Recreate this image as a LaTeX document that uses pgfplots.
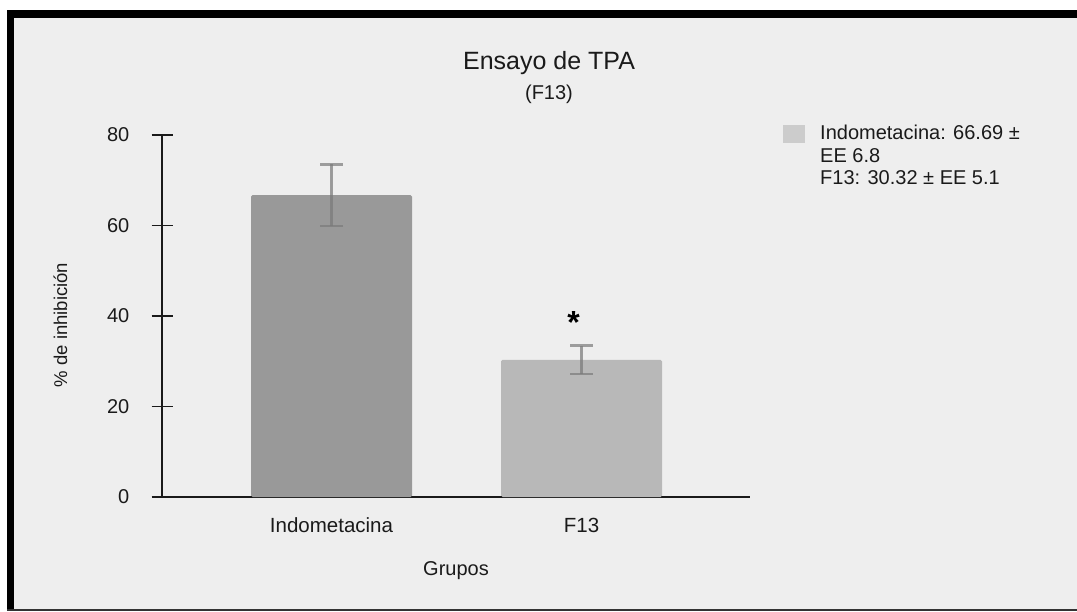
\documentclass[border=0pt]{standalone}
\usepackage{pgfplots}
\pgfplotsset{compat=1.18}
\usepackage{fontspec}
\setmainfont{Liberation Sans}
\definecolor{bgc}{HTML}{EEEEEE}
\definecolor{barA}{HTML}{999999}
\definecolor{barB}{HTML}{B8B8B8}
\definecolor{legc}{HTML}{CCCCCC}
\definecolor{errc}{HTML}{7A7A7A}
\definecolor{txt}{HTML}{1A1A1A}
\begin{document}
\begin{tikzpicture}[x=1pt,y=1pt]
\useasboundingbox (0,0) rectangle (1077,611);
\fill[white] (0,0) rectangle (1077,611);
\fill[bgc] (14,2) rectangle (1077,592.5);
\fill[black] (6.5,592.5) rectangle (1077,600.5);
\fill[black] (6.5,2) rectangle (14,600.5);
\fill[black!80] (6.5,0) rectangle (1077,2);
\begin{axis}[
  scale only axis,
  at={(162pt,114pt)}, anchor=south west,
  width=588pt, height=362pt,
  xmin=-0.678, xmax=1.674,
  ymin=0, ymax=80,
  axis x line=bottom, axis y line=left,
  axis line style={-, line width=1.8pt, color=txt},
  ytick={0,20,40,60,80},
  xtick={0,1},
  xticklabels={Indometacina,F13},
  tick align=center,
  major tick length=21pt,
  ytick style={line width=1.8pt, color=txt},
  xtick style={draw=none},
  /pgf/number format/assume math mode=true,
  yticklabel style={font=\fontsize{20}{24}\selectfont, color=txt, anchor=east, inner sep=0pt, xshift=-22pt},
  xticklabel style={font=\fontsize{20.5}{24}\selectfont, color=txt, anchor=base, inner sep=0pt, yshift=-25pt},
  clip=false,
]
\addplot[ybar, bar shift=0pt, bar width=161pt, fill=barA, draw=none, rounded corners=1.5pt,
  error bars/.cd, y dir=both, y explicit,
  error bar style={line width=2.6pt, color=errc, opacity=0.7},
  error mark options={rotate=90, mark size=11.5pt, line width=2.6pt, color=errc, opacity=0.7}]
  coordinates {(0,66.69) +- (0,6.8)};
\addplot[ybar, bar shift=0pt, bar width=161pt, fill=barB, draw=none, rounded corners=1.5pt,
  error bars/.cd, y dir=both, y explicit,
  error bar style={line width=2.6pt, color=errc, opacity=0.7},
  error mark options={rotate=90, mark size=11.5pt, line width=2.6pt, color=errc, opacity=0.7}]
  coordinates {(1,30.32) +- (0,3.1)};
\node[anchor=base, inner sep=0pt, font=\fontsize{32}{36}\selectfont\bfseries] at (axis cs:0.968,36.1) {*};
\end{axis}
\node[anchor=base, inner sep=0pt, color=txt, font=\fontsize{25}{30}\selectfont] at (549,541) {Ensayo de TPA};
\node[anchor=base, inner sep=0pt, color=txt, font=\fontsize{20}{24}\selectfont] at (549,511) {(F13)};
\node[anchor=base, inner sep=0pt, color=txt, font=\fontsize{20}{24}\selectfont] at (456,36) {Grupos};
\node[anchor=base, rotate=90, inner sep=0pt, color=txt, font=\fontsize{18.5}{22}\selectfont] at (67,286) {\% de inhibición};
\fill[legc] (783,468) rectangle (805,486);
\node[anchor=base west, inner sep=0pt, color=txt, font=\fontsize{20}{24}\selectfont] at (820,471) {Indometacina: 66.69 ±};
\node[anchor=base west, inner sep=0pt, color=txt, font=\fontsize{20}{24}\selectfont] at (820,448) {EE 6.8};
\node[anchor=base west, inner sep=0pt, color=txt, font=\fontsize{20}{24}\selectfont] at (820,426) {F13: 30.32 ± EE 5.1};
\end{tikzpicture}
\end{document}
